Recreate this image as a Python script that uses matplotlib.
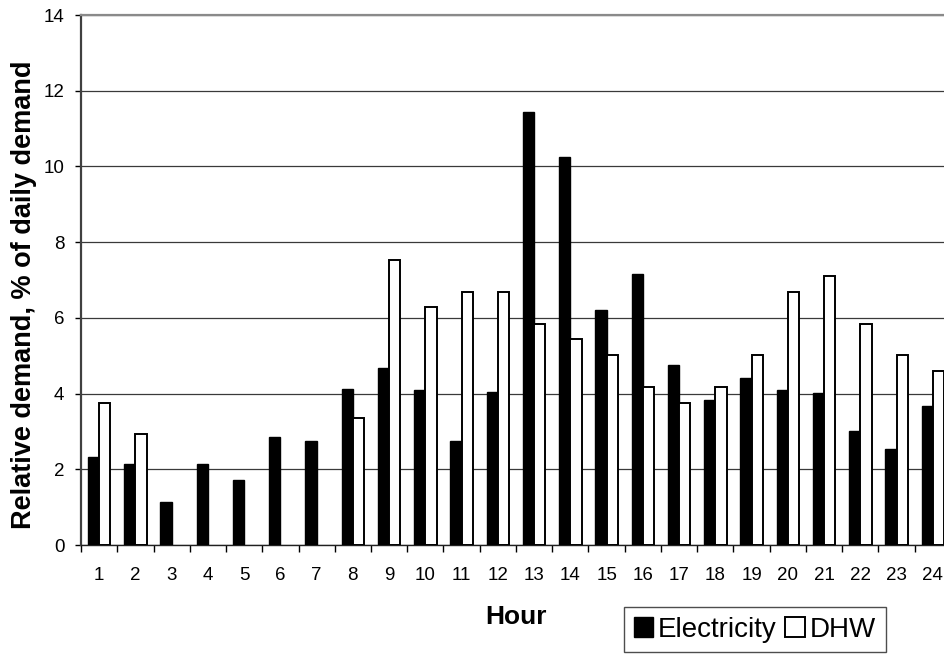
import numpy as np
import matplotlib
matplotlib.use("Agg")
import matplotlib.pyplot as plt

plt.rcParams['font.family'] = ['Liberation Sans', 'DejaVu Sans']

# ---------------- DATA ----------------
hours = list(range(1, 25))
electricity = [2.32, 2.14, 1.14, 2.14, 1.72, 2.85, 2.76, 4.13, 4.67, 4.09, 2.76, 4.05,
               11.45, 10.26, 6.20, 7.17, 4.75, 3.82, 4.40, 4.09, 4.01, 3.00, 2.53, 3.66]
dhw = [3.74, 2.92, 0.0, 0.0, 0.0, 0.0, 0.0, 3.35, 7.53, 6.28, 6.67, 6.67,
       5.85, 5.43, 5.02, 4.17, 3.74, 4.17, 5.02, 6.67, 7.10, 5.85, 5.02, 4.60]
y_ticks = [0, 2, 4, 6, 8, 10, 12, 14]

# ---------------- FIGURE ----------------
W, H = 944, 661
fig = plt.figure(figsize=(W / 100, H / 100), dpi=100)
ax = fig.add_axes([81 / W, 1 - 545 / H, (951 - 81) / W, (545 - 15) / H])

x = np.arange(len(hours))
bw = 0.31
ax.bar(x - bw / 2, electricity, bw, color='black', edgecolor='black', lw=1.0,
       label='Electricity', zorder=3)
# zero-valued DHW hours get no outline (nothing is drawn there)
dhw_lw = [1.4 if v > 0 else 0.0 for v in dhw]
ax.bar(x + bw / 2, dhw, bw, color='white', edgecolor='black', lw=dhw_lw,
       label='DHW', zorder=3)

ax.set_xlim(-0.5, len(hours) - 0.5)
ax.set_ylim(0, 14)
ax.set_yticks(y_ticks)
ax.yaxis.grid(True, color='#3a3a3a', lw=0.9, zorder=0)
ax.set_axisbelow(True)

ax.set_xticks(x)
ax.set_xticklabels([str(h) for h in hours])
ax.set_xticks(np.arange(len(hours) + 1) - 0.5, minor=True)
ax.tick_params(axis='x', which='major', length=0, pad=16, labelsize=13.5)
ax.tick_params(axis='x', which='minor', length=5, width=1.0, direction='out')
ax.tick_params(axis='y', length=4, width=1.0, pad=8, labelsize=13.5)

for s in ['top', 'right']:
    ax.spines[s].set_color('#8a8a8a')
    ax.spines[s].set_linewidth(1.6)
ax.spines['left'].set_color('#404040')
ax.spines['left'].set_linewidth(1.6)
ax.spines['bottom'].set_color('#202020')
ax.spines['bottom'].set_linewidth(1.0)

ax.set_ylabel('Relative demand, % of daily demand', fontsize=19.5, fontweight='bold')
ax.yaxis.set_label_coords(-0.050, 0.473)
ax.set_xlabel('Hour', fontsize=19, fontweight='bold')
ax.xaxis.set_label_coords(0.5, -0.113)

leg = fig.legend(loc='upper left', bbox_to_anchor=(624 / W, 1 - 607 / H),
                 ncol=2, fontsize=20, frameon=True, fancybox=False,
                 handlelength=0.7, handleheight=0.7, handletextpad=0.18,
                 columnspacing=0.3, borderpad=0.35, borderaxespad=0)
leg.get_frame().set_edgecolor('#202020')
leg.get_frame().set_linewidth(1.0)

fig.savefig('out.png', dpi=100)
